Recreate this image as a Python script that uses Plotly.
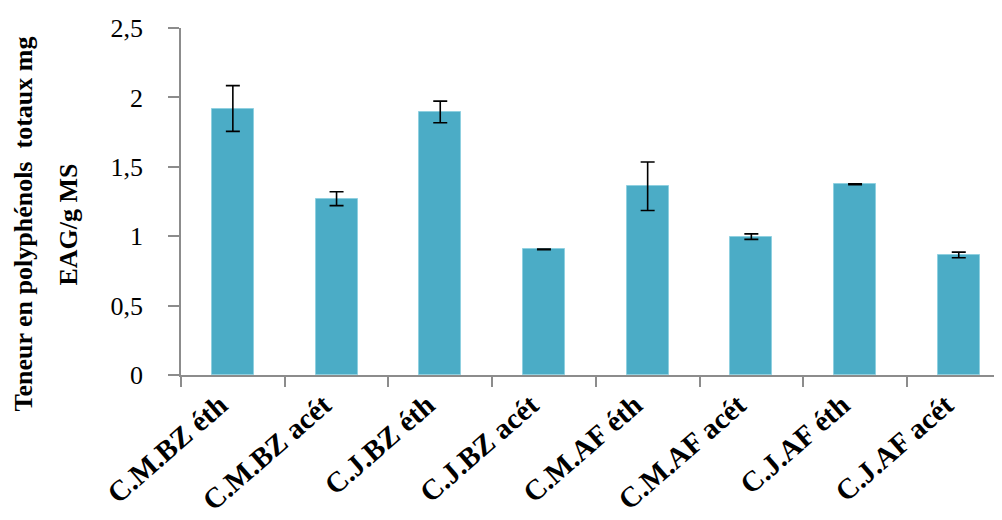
import plotly.graph_objects as go

categories = ["C.M.BZ éth", "C.M.BZ acét", "C.J.BZ éth", "C.J.BZ acét",
              "C.M.AF éth", "C.M.AF acét", "C.J.AF éth", "C.J.AF acét"]
values = [1.92, 1.27, 1.895, 0.905, 1.36, 0.997, 1.374, 0.865]
errors = [0.165, 0.05, 0.078, 0.003, 0.175, 0.02, 0.003, 0.02]
y_tickvals = [0, 0.5, 1, 1.5, 2, 2.5]
y_ticktext = ["0", "0,5", "1", "1,5", "2", "2,5"]
y_title_lines = ["Teneur en polyphénols  totaux mg", "EAG/g MS"]

fig = go.Figure()
fig.add_trace(go.Bar(
    x=categories, y=values,
    width=0.405,
    marker=dict(color="#4BACC6", line=dict(color="#8fd0e0", width=1)),
    error_y=dict(type="data", array=errors, visible=True,
                 color="black", thickness=1.6, width=7),
))

fig.update_layout(
    width=994, height=512,
    margin=dict(l=173, r=0, t=20, b=145),
    paper_bgcolor="white", plot_bgcolor="white",
    showlegend=False,
    font=dict(family="Liberation Serif, Times New Roman, serif", color="black"),
    bargap=0,
)
fig.update_xaxes(
    range=[-0.5, 7.417],
    showline=True, linecolor="#8c8c8c", linewidth=1.5,
    ticks="outside", tickson="boundaries", ticklen=10, tickcolor="#8c8c8c", tickwidth=1.5,
    tickangle=-41, ticklabelshift=-13,
    tickfont=dict(size=29, family="Liberation Serif, Times New Roman, serif", weight="bold"),
    showgrid=False, zeroline=False, automargin=False,
)
fig.update_yaxes(
    range=[0, 2.5],
    tickvals=y_tickvals, ticktext=y_ticktext,
    showline=True, linecolor="#8c8c8c", linewidth=1.5,
    ticks="outside", ticklen=11, tickcolor="#8c8c8c", tickwidth=1.5,
    ticklabelstandoff=20,
    tickfont=dict(size=26),
    showgrid=False, zeroline=False,
    automargin=False,
)

# y-axis title as two rotated lines (positions in px relative to the y axis line)
for line, dx in zip(y_title_lines, [-158, -113]):
    fig.add_annotation(
        text=line, textangle=-90,
        xref="paper", yref="paper", x=0, y=0.5,
        xanchor="center", yanchor="middle",
        xshift=dx, yshift=-23, showarrow=False,
        font=dict(size=26, weight="bold"),
    )

fig.write_html("out.html")
